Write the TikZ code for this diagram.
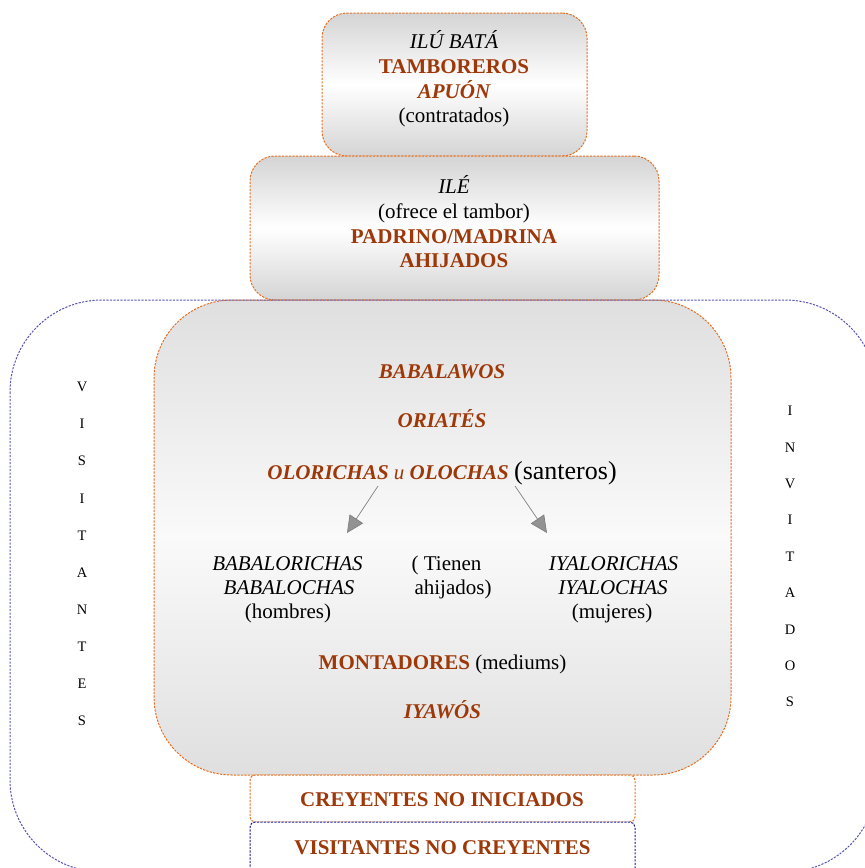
\documentclass[tikz,border=0pt]{standalone}
\usepackage{fontspec}
\setmainfont{Liberation Serif}
\usetikzlibrary{arrows.meta}

\definecolor{rust}{RGB}{158,56,8}
\definecolor{edgeorange}{RGB}{230,110,30}
\definecolor{edgeblue}{RGB}{85,85,180}
\definecolor{edgenavy}{RGB}{25,25,140}
\definecolor{boxgray}{RGB}{212,212,212}
\definecolor{biggray}{RGB}{223,223,223}
\definecolor{arrowgray}{RGB}{128,128,128}

\tikzset{
  dotline/.style={line width=1pt, dash pattern=on 2.2pt off 1.3pt},
  panel/.style={draw=edgeorange, dotline, inner sep=0pt, outer sep=0pt},
  plain/.style={anchor=base, inner sep=0pt, font=\fontsize{21}{25}\selectfont},
  plainit/.style={plain, font=\fontsize{21}{25}\selectfont\itshape},
  role/.style={plain, text=rust, font=\fontsize{21}{25}\selectfont\bfseries},
  roleit/.style={plain, text=rust, font=\fontsize{21}{25}\selectfont\bfseries\itshape},
  letter/.style={anchor=base, inner sep=0pt, font=\fontsize{14.5}{14.5}\selectfont},
  branch/.style={draw=arrowgray, line width=0.7pt,
    -{Triangle[length=17pt,width=16pt,fill=arrowgray!85]}},
}

\begin{document}
\begin{tikzpicture}[x=1pt,y=-1pt]
\useasboundingbox (0,0) rectangle (865,868);
\begin{scope}
\clip (0,0) rectangle (865,868);

% stacked panels
\node[panel, minimum width=265pt, minimum height=143pt, rounded corners=25pt,
      top color=boxgray, bottom color=boxgray, middle color=white]
      (drumbox) at (454.5,84.5) {};
\node[panel, minimum width=409pt, minimum height=144pt, rounded corners=25pt,
      top color=boxgray, bottom color=boxgray, middle color=white]
      (ilebox) at (454.5,228) {};
\node[panel, minimum width=577pt, minimum height=475pt, rounded corners=78pt,
      top color=biggray, bottom color=biggray, middle color=gray!4]
      (corebox) at (442.5,537.5) {};
\node[panel, fill=white, minimum width=385pt, minimum height=47pt, rounded corners=5pt]
      (believers) at (442.5,798.5) {};
\node[panel, draw=edgenavy, fill=white, minimum width=385pt, minimum height=52pt,
      rounded corners=5pt]
      (visitors) at (442.5,848) {};

% outer ring of visitors and guests
\draw[edgeblue, dotline, rounded corners=92pt] (10,300) rectangle (877,872);
\end{scope}

% drummers
\node[plainit] (ilu) at (454,48) {ILÚ BATÁ};
\node[role] (tamb) at (454,73) {TAMBOREROS};
\node[roleit] (apuon) at (454,98) {APUÓN};
\node[plain] (contr) at (454,122.5) {(contratados)};

% house offering the drum
\node[plainit] (ile) at (454,193) {ILÉ};
\node[plain] (ofrece) at (454,218) {(ofrece el tambor)};
\node[role] (padrino) at (454,243) {PADRINO/MADRINA};
\node[role] (ahij) at (454,267) {AHIJADOS};

% initiated core
\node[roleit] (babalawos) at (442,378) {BABALAWOS};
\node[roleit] (oriates) at (442,427) {ORIATÉS};
\node[plain] (olorichas) at (442,479)
  {{\color{rust}\bfseries\itshape OLORICHAS {\mdseries u} OLOCHAS}
   {\fontsize{26}{30}\selectfont (santeros)}};

\node[plainit] (babalor) at (287.5,570) {BABALORICHAS};
\node[plainit] (babaloch) at (289,594) {BABALOCHAS};
\node[plain] (hombres) at (288,618) {(hombres)};

\node[plain] (tienen) at (446.5,570) {( Tienen};
\node[plain] (ahijpar) at (453,594) {ahijados)};

\node[plainit] (iyalor) at (613.5,570) {IYALORICHAS};
\node[plainit] (iyaloch) at (613,594) {IYALOCHAS};
\node[plain] (mujeres) at (612,618) {(mujeres)};

\coordinate (splitL) at (378,486);
\coordinate (splitR) at (515,486);
\coordinate (menEnd) at (347,533);
\coordinate (womenEnd) at (547,533);
\draw[branch] (splitL) -- (menEnd);
\draw[branch] (splitR) -- (womenEnd);

\node[plain] (montadores) at (442.5,669)
  {{\color{rust}\bfseries MONTADORES} (mediums)};
\node[roleit] (iyawos) at (442.5,718) {IYAWÓS};

% lower bands
\node[role] (creyentes) at (442,806) {CREYENTES NO INICIADOS};
\node[role] (visit) at (442.5,854) {VISITANTES NO CREYENTES};

% vertical side captions
\foreach \ch [count=\i from 0] in {V,I,S,I,T,A,N,T,E,S}
  \node[letter] (vis-\i) at (82,391.7+37.1*\i) {\ch};
\foreach \ch [count=\i from 0] in {I,N,V,I,T,A,D,O,S}
  \node[letter] (inv-\i) at (790,415.7+36.4*\i) {\ch};
\end{tikzpicture}
\end{document}
